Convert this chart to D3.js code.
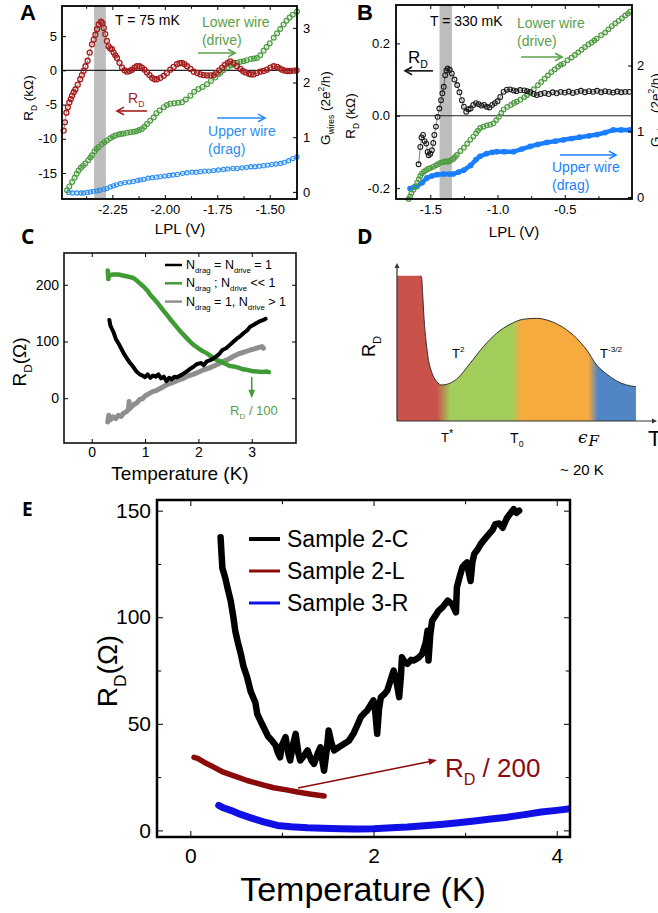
<!DOCTYPE html>
<html>
<head>
<meta charset="utf-8">
<script src="https://cdn.jsdelivr.net/npm/d3@7/dist/d3.min.js"></script>
<style>
body { margin: 0; background: #fff; }
text { font-family: "Liberation Sans", Arial, Helvetica, sans-serif; }
</style>
</head>
<body>
<svg id="fig" width="658" height="913"></svg>
<script>
// ---------- panel A (T = 75 mK) : [LPL (V), value] ----------
const aRD = [[-2.482,-8.8],[-2.476,-7.6],[-2.469,-6.2],[-2.462,-5.4],[-2.455,-4.7],[-2.448,-4.2],[-2.442,-3.7],[-2.434,-3.2],[-2.426,-2.8],[-2.415,-2.1],[-2.403,-1.3],[-2.395,-0.7],[-2.387,-0.1],[-2.378,0.6],[-2.368,1.4],[-2.358,2.6],[-2.347,3.8],[-2.339,4.5],[-2.331,5.2],[-2.323,6.0],[-2.315,6.7],[-2.304,7.1],[-2.297,6.9],[-2.291,6.2],[-2.284,5.3],[-2.276,4.3],[-2.268,3.5],[-2.260,3.2],[-2.252,3.1],[-2.244,2.6],[-2.236,2.2],[-2.228,1.8],[-2.216,1.1],[-2.204,0.4],[-2.192,0.0],[-2.180,-0.2],[-2.168,-0.1],[-2.156,0.1],[-2.144,0.4],[-2.133,0.6],[-2.121,0.6],[-2.109,0.4],[-2.097,0.1],[-2.085,-0.3],[-2.073,-0.7],[-2.061,-1.1],[-2.049,-1.3],[-2.037,-1.3],[-2.021,-1.1],[-2.005,-0.8],[-1.990,-0.4],[-1.974,0.1],[-1.958,0.5],[-1.942,0.9],[-1.930,1.05],[-1.918,1.1],[-1.906,0.9],[-1.894,0.6],[-1.878,0.2],[-1.862,-0.2],[-1.846,-0.4],[-1.830,-0.6],[-1.815,-0.7],[-1.799,-0.75],[-1.783,-0.75],[-1.767,-0.7],[-1.755,-0.4],[-1.741,0.0],[-1.727,0.4],[-1.714,0.8],[-1.700,1.1],[-1.688,1.3],[-1.672,1.1],[-1.656,0.6],[-1.640,0.2],[-1.628,-0.1],[-1.616,-0.3],[-1.600,-0.5],[-1.590,-0.6],[-1.577,-0.6],[-1.561,-0.4],[-1.545,-0.2],[-1.529,-0.1],[-1.513,0.1],[-1.497,0.4],[-1.481,0.6],[-1.465,0.5],[-1.453,0.3],[-1.441,0.1],[-1.428,-0.05],[-1.415,-0.1],[-1.402,-0.1],[-1.386,-0.05],[-1.372,0.0]];
const aLower = [[-2.466,0.03],[-2.455,0.10],[-2.442,0.18],[-2.43,0.26],[-2.42,0.33],[-2.411,0.39],[-2.40,0.44],[-2.39,0.48],[-2.379,0.52],[-2.365,0.58],[-2.355,0.63],[-2.347,0.67],[-2.335,0.74],[-2.325,0.79],[-2.315,0.82],[-2.30,0.87],[-2.288,0.91],[-2.276,0.94],[-2.26,0.98],[-2.248,1.01],[-2.236,1.03],[-2.22,1.05],[-2.208,1.06],[-2.196,1.07],[-2.18,1.08],[-2.164,1.09],[-2.148,1.10],[-2.135,1.11],[-2.122,1.13],[-2.109,1.15],[-2.097,1.19],[-2.085,1.24],[-2.07,1.30],[-2.053,1.36],[-2.04,1.44],[-2.025,1.49],[-2.005,1.55],[-1.99,1.59],[-1.974,1.61],[-1.955,1.62],[-1.936,1.63],[-1.918,1.64],[-1.90,1.69],[-1.878,1.76],[-1.86,1.83],[-1.84,1.88],[-1.82,1.92],[-1.799,1.97],[-1.78,2.03],[-1.76,2.09],[-1.745,2.15],[-1.735,2.18],[-1.72,2.23],[-1.70,2.28],[-1.685,2.31],[-1.672,2.33],[-1.655,2.36],[-1.64,2.38],[-1.624,2.39],[-1.61,2.41],[-1.59,2.43],[-1.575,2.44],[-1.561,2.45],[-1.545,2.50],[-1.529,2.58],[-1.515,2.65],[-1.50,2.72],[-1.481,2.82],[-1.465,2.90],[-1.45,2.98],[-1.434,3.06],[-1.42,3.13],[-1.405,3.19],[-1.39,3.24],[-1.37,3.30]];
const aUpper = [[-2.458,-0.01],[-2.44,-0.02],[-2.42,-0.02],[-2.40,-0.02],[-2.387,-0.02],[-2.37,-0.01],[-2.355,0.0],[-2.34,0.01],[-2.323,0.02],[-2.31,0.03],[-2.29,0.05],[-2.276,0.06],[-2.26,0.09],[-2.245,0.11],[-2.23,0.13],[-2.212,0.15],[-2.19,0.17],[-2.17,0.18],[-2.15,0.19],[-2.13,0.21],[-2.117,0.22],[-2.10,0.23],[-2.08,0.25],[-2.06,0.26],[-2.04,0.27],[-2.021,0.28],[-2.0,0.29],[-1.98,0.30],[-1.96,0.31],[-1.94,0.32],[-1.915,0.34],[-1.894,0.35],[-1.87,0.36],[-1.85,0.36],[-1.83,0.37],[-1.81,0.38],[-1.79,0.38],[-1.767,0.39],[-1.745,0.40],[-1.72,0.41],[-1.70,0.42],[-1.675,0.43],[-1.655,0.43],[-1.632,0.44],[-1.61,0.45],[-1.59,0.46],[-1.57,0.46],[-1.55,0.47],[-1.529,0.48],[-1.51,0.49],[-1.49,0.50],[-1.47,0.51],[-1.449,0.52],[-1.43,0.54],[-1.41,0.57],[-1.39,0.61],[-1.37,0.64]];
const aBand = [-2.337, -2.281];
const aXTicks = [-2.25, -2.0, -1.75, -1.5];
const aXMinor = [-2.375, -2.125, -1.875, -1.625];
const aYTicks = [-15, -10, -5, 0, 5];
const aGTicks = [0, 1, 2, 3];

// ---------- panel B (T = 330 mK) ----------
const bRD = [[-1.587,-0.134],[-1.574,-0.086],[-1.565,-0.06],[-1.554,-0.053],[-1.542,-0.07],[-1.53,-0.077],[-1.52,-0.1],[-1.512,-0.109],[-1.50,-0.105],[-1.488,-0.095],[-1.478,-0.075],[-1.47,-0.053],[-1.458,-0.03],[-1.446,-0.003],[-1.433,0.02],[-1.42,0.043],[-1.41,0.062],[-1.40,0.08],[-1.389,0.112],[-1.38,0.125],[-1.371,0.131],[-1.355,0.127],[-1.34,0.117],[-1.32,0.1],[-1.30,0.085],[-1.283,0.065],[-1.265,0.043],[-1.25,0.025],[-1.233,0.011],[-1.215,0.018],[-1.20,0.02],[-1.18,0.03],[-1.16,0.035],[-1.14,0.032],[-1.12,0.028],[-1.10,0.03],[-1.08,0.025],[-1.06,0.023],[-1.04,0.03],[-1.02,0.035],[-1.0,0.04],[-0.98,0.052],[-0.955,0.066],[-0.93,0.072],[-0.906,0.073],[-0.88,0.07],[-0.86,0.068],[-0.832,0.071],[-0.80,0.07],[-0.78,0.068],[-0.757,0.066],[-0.73,0.06],[-0.708,0.057],[-0.68,0.06],[-0.65,0.063],[-0.62,0.06],[-0.59,0.065],[-0.56,0.062],[-0.53,0.066],[-0.50,0.064],[-0.47,0.067],[-0.44,0.063],[-0.41,0.066],[-0.38,0.069],[-0.35,0.065],[-0.32,0.068],[-0.29,0.066],[-0.26,0.069],[-0.23,0.065],[-0.20,0.068],[-0.17,0.066],[-0.14,0.064],[-0.11,0.067],[-0.08,0.065],[-0.05,0.066],[-0.02,0.066]];
const bLower = [[-1.661,-0.03],[-1.65,0.01],[-1.64,0.06],[-1.625,0.11],[-1.611,0.16],[-1.598,0.22],[-1.585,0.27],[-1.574,0.32],[-1.562,0.36],[-1.546,0.39],[-1.53,0.41],[-1.515,0.43],[-1.50,0.44],[-1.48,0.46],[-1.46,0.48],[-1.443,0.50],[-1.426,0.52],[-1.408,0.53],[-1.39,0.54],[-1.377,0.54],[-1.364,0.54],[-1.347,0.56],[-1.33,0.58],[-1.316,0.61],[-1.302,0.64],[-1.276,0.70],[-1.25,0.75],[-1.226,0.81],[-1.203,0.87],[-1.18,0.92],[-1.16,0.97],[-1.145,1.01],[-1.129,1.05],[-1.105,1.07],[-1.08,1.09],[-1.055,1.10],[-1.03,1.12],[-1.01,1.17],[-0.99,1.22],[-0.972,1.28],[-0.955,1.33],[-0.928,1.37],[-0.90,1.40],[-0.878,1.43],[-0.857,1.45],[-0.83,1.48],[-0.80,1.52],[-0.78,1.55],[-0.757,1.58],[-0.73,1.64],[-0.70,1.70],[-0.675,1.75],[-0.65,1.80],[-0.625,1.85],[-0.60,1.90],[-0.575,1.94],[-0.55,1.98],[-0.53,2.01],[-0.51,2.03],[-0.48,2.08],[-0.45,2.12],[-0.425,2.16],[-0.40,2.20],[-0.375,2.24],[-0.35,2.28],[-0.325,2.32],[-0.30,2.35],[-0.28,2.38],[-0.262,2.41],[-0.23,2.46],[-0.20,2.50],[-0.175,2.55],[-0.15,2.60],[-0.125,2.64],[-0.10,2.68],[-0.075,2.72],[-0.05,2.76],[-0.03,2.79],[-0.015,2.82]];
const bUpper = [[-1.65,0.13],[-1.62,0.15],[-1.60,0.16],[-1.56,0.22],[-1.525,0.29],[-1.49,0.32],[-1.45,0.34],[-1.40,0.35],[-1.36,0.35],[-1.33,0.35],[-1.29,0.38],[-1.25,0.41],[-1.20,0.48],[-1.16,0.57],[-1.13,0.62],[-1.08,0.66],[-1.04,0.68],[-1.005,0.69],[-0.95,0.69],[-0.88,0.69],[-0.82,0.73],[-0.757,0.77],[-0.70,0.80],[-0.634,0.83],[-0.57,0.85],[-0.51,0.87],[-0.45,0.89],[-0.39,0.91],[-0.32,0.93],[-0.26,0.95],[-0.20,0.98],[-0.14,1.02],[-0.08,1.02],[-0.015,1.02]];
const bBand = [-1.431, -1.339];
const bXTicks = [-1.5, -1.0, -0.5];
const bXMinor = [-1.25, -0.75, -0.25];
const bYTicks = [-0.2, 0.0, 0.2];
const bGTicks = [0, 1, 2];

// ---------- panel C : [T (K), R_D (Ohm)] ----------
const cEqual = [[0.33,138],[0.35,128],[0.38,122],[0.41,116],[0.45,105],[0.5,97],[0.55,88],[0.6,79],[0.66,70],[0.72,62],[0.78,55],[0.84,47],[0.9,42],[0.95,40],[1.0,37],[1.05,42],[1.1,36],[1.15,40],[1.2,38],[1.25,42],[1.3,35],[1.35,38],[1.4,30],[1.45,36],[1.5,33],[1.55,38],[1.6,37],[1.7,42],[1.78,47],[1.85,52],[1.9,55],[1.97,60],[2.05,62],[2.1,58],[2.16,65],[2.25,68],[2.34,74],[2.4,79],[2.45,85],[2.52,88],[2.59,94],[2.66,100],[2.72,105],[2.78,109],[2.85,115],[2.92,120],[2.97,126],[3.03,129],[3.1,133],[3.16,136],[3.22,138],[3.26,140]];
const cLow = [[0.3,225],[0.31,210],[0.33,217],[0.4,218],[0.5,218],[0.6,216],[0.7,214],[0.78,212],[0.85,207],[0.92,201],[0.97,197],[1.05,189],[1.1,182],[1.16,176],[1.25,166],[1.33,156],[1.41,147],[1.5,136],[1.58,127],[1.66,118],[1.75,109],[1.83,101],[1.91,94],[2.0,88],[2.08,83],[2.16,79],[2.25,73],[2.33,68],[2.41,65],[2.5,61],[2.58,57],[2.66,56],[2.75,54],[2.83,51],[2.91,50],[3.0,48],[3.1,47],[3.2,46],[3.28,47],[3.32,46]];
const cMulti = [[0.3,-42],[0.32,-30],[0.35,-38],[0.4,-33],[0.45,-36],[0.5,-30],[0.55,-32],[0.6,-26],[0.65,-24],[0.69,-20],[0.7,-6],[0.715,-18],[0.78,-12],[0.85,-8],[0.9,-2],[0.95,-1],[1.0,4],[1.09,9],[1.15,12],[1.2,13],[1.3,18],[1.41,24],[1.5,27],[1.6,31],[1.72,35],[1.8,39],[1.9,42],[2.03,47],[2.1,50],[2.2,53],[2.34,59],[2.45,64],[2.55,68],[2.66,74],[2.75,78],[2.85,81],[2.97,85],[3.05,87],[3.12,89],[3.19,91],[3.22,88]];
const cXTicks = [0, 1, 2, 3];
const cYTicks = [0, 100, 200];

// ---------- panel D : schematic curve (arbitrary units) ----------
const dCurve = [[0,9.2],[0.91,9.2],[0.95,9.03],[0.99,7.97],[1.04,6.5],[1.12,5.02],[1.2,3.97],[1.33,3.12],[1.53,2.49],[1.72,2.28],[1.91,2.32],[2.3,2.66],[2.81,3.65],[3.32,4.70],[3.83,5.55],[4.35,6.12],[4.86,6.44],[5.37,6.5],[5.88,6.33],[6.4,5.91],[6.91,5.23],[7.3,4.49],[7.68,3.54],[8.07,2.96],[8.45,2.53],[8.83,2.28],[9.19,2.17]];
const dRegions = [
  { from: 0, to: 1.53, color: "#c9524a" },
  { from: 2.04, to: 4.41, color: "#a3cd5b" },
  { from: 4.8, to: 7.35, color: "#f7aa3e" },
  { from: 7.73, to: 10, color: "#5085c6" }
];

// ---------- panel E : [T (K), R_D (Ohm)] ----------
const e2C = [[0.33,137.5],[0.34,130],[0.35,123],[0.38,118.7],[0.41,113],[0.44,107.8],[0.47,100],[0.49,93.7],[0.52,88],[0.55,83],[0.58,77],[0.62,71.8],[0.66,65],[0.69,62],[0.71,60],[0.73,54.7],[0.77,51],[0.8,48.4],[0.85,44],[0.89,42.2],[0.93,40],[0.96,36],[0.98,34.3],[1.0,40],[1.04,43.7],[1.07,36],[1.09,32.8],[1.12,40],[1.15,45.3],[1.18,36],[1.2,32.8],[1.24,35],[1.28,37.5],[1.32,33],[1.35,31.2],[1.39,36],[1.42,39],[1.44,33],[1.46,28],[1.49,38],[1.51,46.9],[1.54,41],[1.57,37.5],[1.62,39],[1.68,40.6],[1.73,42],[1.78,45.3],[1.82,49],[1.86,53.1],[1.9,55],[1.93,56.2],[1.97,59],[2.0,61],[2.02,55],[2.04,45.3],[2.06,57],[2.08,62.5],[2.12,64],[2.15,65.6],[2.19,71],[2.22,75],[2.25,70],[2.28,62.5],[2.3,73],[2.31,81.2],[2.34,79],[2.37,78.1],[2.41,80],[2.44,79.7],[2.49,81],[2.53,82.8],[2.57,88],[2.59,93.7],[2.6,79.7],[2.62,92],[2.64,98.4],[2.68,101],[2.71,103],[2.76,105],[2.81,107.8],[2.86,106],[2.9,102.3],[2.91,114],[2.94,119],[2.97,123.4],[3.0,125],[3.02,125.7],[3.04,121],[3.06,117],[3.08,126],[3.1,129.7],[3.14,132],[3.17,134.3],[3.22,137],[3.26,139],[3.3,141],[3.33,143.7],[3.37,144],[3.41,142],[3.44,145],[3.46,146.8],[3.5,149],[3.53,150.7],[3.56,149],[3.59,150]];
const e2L = [[0.04,34.3],[0.08,33.8],[0.15,32],[0.25,29.8],[0.36,27.3],[0.5,25.2],[0.62,23.4],[0.77,21.6],[0.91,20],[1.05,19],[1.17,18],[1.3,17.1],[1.4,16.5],[1.46,16.1]];
const e3R = [[0.31,11.7],[0.36,10.6],[0.44,9.4],[0.55,7.5],[0.66,5.9],[0.8,4],[0.95,2.3],[1.1,1.7],[1.28,1.2],[1.45,1.0],[1.64,0.8],[1.82,0.7],[2.0,0.8],[2.2,1.2],[2.37,1.6],[2.55,2.2],[2.73,2.8],[2.9,3.5],[3.1,4.4],[3.28,5.3],[3.46,6.2],[3.65,7.4],[3.83,8.6],[4.0,9.4],[4.15,10.2]];
const eSeries = ["Sample 2-C", "Sample 2-L", "Sample 3-R"];
const eColors = ["#000000", "#8b0a0a", "#1010e6"];
const eXTicks = [0, 2, 4], eXMinor = [1, 3];
const eYTicks = [0, 50, 100, 150], eYMinor = [25, 75, 125];

const svg = d3.select("#fig");
const hy = f => v => d3.format(f)(v).replace("\u2212", "-");

// text with sub/superscripts: parts = ["R", ["D","sub"], " (k\u03a9)"]
function rich(g, x, y, parts, fs) {
  const t = g.append("text").attr("x", x).attr("y", y).attr("font-size", fs);
  let off = 0;
  parts.forEach(p => {
    const [s, kind, k] = Array.isArray(p) ? p : [p, ""];
    const target = kind === "sub" ? fs * 0.32 : kind === "sup" ? -fs * 0.42 : 0;
    const ts = t.append("tspan").attr("dy", (target - off).toFixed(2)).text(s);
    if (kind) ts.attr("font-size", (fs * (k || 0.62)).toFixed(1));
    off = target;
  });
  return t;
}

function arrow(g, x1, y1, x2, y2, color, w, filled) {
  const a = Math.atan2(y2 - y1, x2 - x1), L = filled ? 9 : 8, s = filled ? 0.38 : 0.5;
  const p1 = [x2 - L * Math.cos(a - s), y2 - L * Math.sin(a - s)];
  const p2 = [x2 - L * Math.cos(a + s), y2 - L * Math.sin(a + s)];
  const ex = filled ? x2 - L * 0.8 * Math.cos(a) : x2, ey = filled ? y2 - L * 0.8 * Math.sin(a) : y2;
  g.append("line").attr("x1", x1).attr("y1", y1).attr("x2", ex).attr("y2", ey)
    .attr("stroke", color).attr("stroke-width", w);
  if (filled) {
    g.append("path").attr("d", `M${x2},${y2}L${p1}L${p2}Z`).attr("fill", color);
  } else {
    g.append("path").attr("d", `M${p1}L${x2},${y2}L${p2}`).attr("fill", "none")
      .attr("stroke", color).attr("stroke-width", w);
  }
}

// boxed axes with inward ticks on all four sides
function frame(g, x, y, o) {
  const [x0, x1] = x.range(), [y0, y1] = y.range();
  const len = o.len, tidy = s => s.select(".domain").remove();
  const font = s => s.attr("font-size", o.fs).attr("font-family", null);
  g.append("g").attr("transform", `translate(0,${y0})`)
    .call(d3.axisBottom(x).tickValues(o.xt).tickFormat(o.xf).tickSizeInner(-len).tickSizeOuter(0).tickPadding(o.xpad))
    .call(tidy).call(font);
  g.append("g").attr("transform", `translate(0,${y1})`)
    .call(d3.axisTop(x).tickValues(o.xt).tickFormat("").tickSizeInner(-len).tickSizeOuter(0)).call(tidy);
  if (o.xm) {
    g.append("g").attr("transform", `translate(0,${y0})`)
      .call(d3.axisBottom(x).tickValues(o.xm).tickFormat("").tickSizeInner(-len * 0.7).tickSizeOuter(0)).call(tidy);
    g.append("g").attr("transform", `translate(0,${y1})`)
      .call(d3.axisTop(x).tickValues(o.xm).tickFormat("").tickSizeInner(-len * 0.7).tickSizeOuter(0)).call(tidy);
  }
  g.append("g").attr("transform", `translate(${x0},0)`)
    .call(d3.axisLeft(y).tickValues(o.yt).tickFormat(o.yf).tickSizeInner(-len).tickSizeOuter(0).tickPadding(o.ypad))
    .call(tidy).call(font);
  const yr = o.yr || y;
  g.append("g").attr("transform", `translate(${x1},0)`)
    .call(d3.axisRight(yr).tickValues(o.yrt || o.yt).tickFormat(o.yrf || "").tickSizeInner(-len).tickSizeOuter(0).tickPadding(o.yrpad || 4))
    .call(tidy).call(font);
  if (o.ym) {
    g.append("g").attr("transform", `translate(${x0},0)`)
      .call(d3.axisLeft(y).tickValues(o.ym).tickFormat("").tickSizeInner(-len * 0.7).tickSizeOuter(0)).call(tidy);
    g.append("g").attr("transform", `translate(${x1},0)`)
      .call(d3.axisRight(y).tickValues(o.ym).tickFormat("").tickSizeInner(-len * 0.7).tickSizeOuter(0)).call(tidy);
  }
  g.append("rect").attr("x", x0).attr("y", y1).attr("width", x1 - x0).attr("height", y0 - y1)
    .attr("fill", "none").attr("stroke", "#000").attr("stroke-width", o.sw);
}

function circles(g, data, x, y, color, r, sw) {
  g.append("path").attr("d", d3.line().x(d => x(d[0])).y(d => y(d[1]))(data))
    .attr("fill", "none").attr("stroke", color).attr("stroke-width", 0.7).attr("opacity", 0.8);
  g.append("g").selectAll("circle").data(data).join("circle")
    .attr("cx", d => x(d[0])).attr("cy", d => y(d[1])).attr("r", r)
    .attr("fill", "none").attr("stroke", color).attr("stroke-width", sw);
}

function trace(g, data, x, y, color, w) {
  g.append("path").attr("d", d3.line().x(d => x(d[0])).y(d => y(d[1]))(data))
    .attr("fill", "none").attr("stroke", color).attr("stroke-width", w)
    .attr("stroke-linejoin", "round").attr("stroke-linecap", "round");
}

function letter(x, y, s, fs, fam) {
  svg.append("text").attr("x", x).attr("y", y).attr("font-size", fs).attr("font-weight", "bold")
    .style("font-family", fam).text(s);
}

// ================= A =================
{
  const g = svg.append("g");
  const x = d3.scaleLinear().domain([-2.49, -1.37]).range([62, 297]);
  const yL = d3.scaleLinear().domain([-18.8, 9.4]).range([199, 6]);
  const yR = d3.scaleLinear().domain([-0.13, 3.4]).range([199, 6]);
  g.append("rect").attr("x", x(aBand[0])).attr("y", 6).attr("width", x(aBand[1]) - x(aBand[0]))
    .attr("height", 193).attr("fill", "#bdbdbd");
  g.append("line").attr("x1", 62).attr("x2", 297).attr("y1", yL(0)).attr("y2", yL(0))
    .attr("stroke", "#222").attr("stroke-width", 1.4);
  circles(g, aUpper, x, yR, "#2b8df0", 2.1, 1.1);
  circles(g, aLower, x, yR, "#4c9b40", 2.4, 1.2);
  circles(g, aRD, x, yL, "#a51d1d", 2.5, 1.3);
  frame(g, x, yL, { xt: aXTicks, xm: aXMinor, xf: hy(".2f"), yt: aYTicks, yf: hy("d"),
    yr: yR, yrt: aGTicks, yrf: d3.format("d"), yrpad: 6, len: 4, fs: 13, xpad: 6, ypad: 5, sw: 1.8 });
  g.append("text").attr("x", x(-2.237)).attr("y", yL(6.62)).attr("font-size", 14).text("T = 75 mK");
  g.append("text").attr("x", x(-1.823)).attr("y", yR(3.016)).attr("font-size", 14).attr("fill", "#5aa04a").text("Lower wire");
  g.append("text").attr("x", x(-1.823)).attr("y", yR(2.687)).attr("font-size", 14).attr("fill", "#5aa04a").text("(drive)");
  arrow(g, x(-1.842), yR(2.54), x(-1.665), yR(2.54), "#5aa04a", 1.6, false);
  rich(g, x(-2.175), yL(-4.77), ["R", ["D", "sub"]], 14).attr("fill", "#a51d1d");
  arrow(g, x(-2.085), yL(-5.94), x(-2.228), yL(-5.94), "#a51d1d", 1.6, false);
  g.append("text").attr("x", x(-1.794)).attr("y", yR(1.022)).attr("font-size", 14).attr("fill", "#2b8df0").text("Upper wire");
  g.append("text").attr("x", x(-1.794)).attr("y", yR(0.693)).attr("font-size", 14).attr("fill", "#2b8df0").text("(drag)");
  arrow(g, x(-1.751), yR(1.352), x(-1.522), yR(1.352), "#2b8df0", 1.6, false);
  g.append("text").attr("x", 180).attr("y", 234).attr("font-size", 15).attr("text-anchor", "middle").text("LPL (V)");
  rich(g, 0, 0, ["R", ["D", "sub"], " (k\u03a9)"], 13.5).attr("text-anchor", "middle")
    .attr("transform", "translate(33,98) rotate(-90)");
  rich(g, 0, 0, ["G", ["wires", "sub"], " (2e", ["2", "sup"], "/h)"], 13.5).attr("text-anchor", "middle")
    .attr("transform", "translate(330,108) rotate(-90)");
  letter(20, 20, "A", 22, "Liberation Sans, Arial, sans-serif");
}

// ================= B =================
{
  const g = svg.append("g");
  const x = d3.scaleLinear().domain([-1.755, 0]).range([396, 632]);
  const yL = d3.scaleLinear().domain([-0.23, 0.306]).range([199, 5]);
  const yR = d3.scaleLinear().domain([-0.03, 2.92]).range([199, 5]);
  g.append("rect").attr("x", x(bBand[0])).attr("y", 5).attr("width", x(bBand[1]) - x(bBand[0]))
    .attr("height", 194).attr("fill", "#bdbdbd");
  g.append("line").attr("x1", 396).attr("x2", 632).attr("y1", yL(0)).attr("y2", yL(0))
    .attr("stroke", "#222").attr("stroke-width", 1.2);
  trace(g, bUpper, x, yR, "#1a7fff", 4.5);
  circles(g, bUpper, x, yR, "#1a7fff", 2.3, 1.1);
  circles(g, bLower, x, yR, "#4e9a40", 2.3, 1.2);
  circles(g, bRD, x, yL, "#1a1a1a", 2.4, 1.1);
  frame(g, x, yL, { xt: bXTicks, xm: bXMinor, xf: hy(".1f"), yt: bYTicks, yf: hy(".1f"),
    yr: yR, yrt: bGTicks, yrf: d3.format("d"), yrpad: 5, len: 4, fs: 13, xpad: 6, ypad: 6, sw: 1.8 });
  g.append("text").attr("x", x(-1.502)).attr("y", yL(0.248)).attr("font-size", 14).text("T = 330 mK");
  g.append("text").attr("x", x(-0.855)).attr("y", yR(2.57)).attr("font-size", 14).attr("fill", "#5aa04a").text("Lower wire");
  g.append("text").attr("x", x(-0.855)).attr("y", yR(2.297)).attr("font-size", 14).attr("fill", "#5aa04a").text("(drive)");
  arrow(g, x(-0.825), yR(2.129), x(-0.52), yR(2.129), "#5aa04a", 1.6, false);
  rich(g, x(-1.666), yL(0.146), ["R", ["D", "sub"]], 17);
  arrow(g, x(-1.48), yL(0.124), x(-1.688), yL(0.124), "#111", 1.6, false);
  g.append("text").attr("x", x(-0.595)).attr("y", yR(0.381)).attr("font-size", 14).attr("fill", "#1a7fff").text("Upper wire");
  g.append("text").attr("x", x(-0.595)).attr("y", yR(0.107)).attr("font-size", 14).attr("fill", "#1a7fff").text("(drag)");
  arrow(g, x(-0.535), yR(0.639), x(-0.119), yR(0.639), "#1a7fff", 1.6, false);
  g.append("text").attr("x", 514).attr("y", 237).attr("font-size", 15).attr("text-anchor", "middle").text("LPL (V)");
  rich(g, 0, 0, ["R", ["D", "sub"], " (k\u03a9)"], 13.5).attr("text-anchor", "middle")
    .attr("transform", "translate(355,116) rotate(-90)");
  // the right-hand label runs past the page edge, as in the source figure
  rich(g, 0, 0, ["G", ["wires", "sub"], " (2e", ["2", "sup"], "/h)"], 13.5).attr("text-anchor", "middle")
    .attr("transform", "translate(660,110) rotate(-90)");
  letter(357, 20, "B", 22, "Liberation Sans, Arial, sans-serif");
}

// ================= C =================
{
  const g = svg.append("g");
  const x = d3.scaleLinear().domain([-0.52, 3.83]).range([64, 296]);
  const y = d3.scaleLinear().domain([-79, 256]).range([443, 253]);
  trace(g, cMulti, x, y, "#8e8e8e", 5);
  trace(g, cLow, x, y, "#3f9c35", 4.5);
  trace(g, cEqual, x, y, "#000", 4);
  frame(g, x, y, { xt: cXTicks, xf: d3.format("d"), yt: cYTicks, yf: d3.format("d"),
    len: 4, fs: 14, xpad: 4, ypad: 5, sw: 1.5 });
  const leg = [
    { c: "#000", t: ["N", ["drag", "sub"], " = N", ["drive", "sub"], " = 1"] },
    { c: "#3f9c35", t: ["N", ["drag", "sub"], " ; N", ["drive", "sub"], " << 1"] },
    { c: "#8e8e8e", t: ["N", ["drag", "sub"], " = 1, N", ["drive", "sub"], " > 1"] }
  ];
  leg.forEach((d, i) => {
    const yy = 265 + i * 18.3;
    g.append("line").attr("x1", 165).attr("x2", 182).attr("y1", yy).attr("y2", yy)
      .attr("stroke", d.c).attr("stroke-width", 2.5);
    rich(g, 186, yy + 4, d.t, 12.5);
  });
  arrow(g, x(3.0), y(37), x(3.0), y(0), "#3f9c35", 1.5, true);
  rich(g, x(2.593), y(-29.6), ["R", ["D", "sub"], " / 100"], 13).attr("fill", "#5aa04a");
  g.append("text").attr("x", 180).attr("y", 480).attr("font-size", 19).attr("text-anchor", "middle").text("Temperature (K)");
  rich(g, 0, 0, ["R", ["D", "sub"], "(\u03a9)"], 19).attr("text-anchor", "middle")
    .attr("transform", "translate(26,362) rotate(-90)");
  letter(21, 244, "C", 21, "Open Sans, Liberation Sans, sans-serif");
}

// ================= D =================
{
  const g = svg.append("g");
  const x = d3.scaleLinear().domain([0, 10]).range([397, 657]);
  const y = d3.scaleLinear().domain([0, 10]).range([421, 263]);
  const grad = svg.append("defs").append("linearGradient").attr("id", "dgrad")
    .attr("gradientUnits", "userSpaceOnUse").attr("x1", x(0)).attr("x2", x(10)).attr("y1", 0).attr("y2", 0);
  dRegions.forEach(r => {
    grad.append("stop").attr("offset", r.from / 10).attr("stop-color", r.color);
    grad.append("stop").attr("offset", r.to / 10).attr("stop-color", r.color);
  });
  g.append("path").attr("d", d3.area().x(d => x(d[0])).y0(y(0)).y1(d => y(d[1])).curve(d3.curveMonotoneX)(dCurve))
    .attr("fill", "url(#dgrad)");
  g.append("path").attr("d", d3.line().x(d => x(d[0])).y(d => y(d[1])).curve(d3.curveMonotoneX)(dCurve.slice(1)))
    .attr("fill", "none").attr("stroke", "#333").attr("stroke-width", 1);
  // axes with arrow heads
  g.append("line").attr("x1", x(0)).attr("y1", y(0)).attr("x2", x(0)).attr("y2", y(10) + 2).attr("stroke", "#333").attr("stroke-width", 1.2);
  g.append("path").attr("d", `M${x(0) - 2.5},${y(10) + 5}L${x(0)},${y(10)}L${x(0) + 2.5},${y(10) + 5}Z`).attr("fill", "#333");
  g.append("line").attr("x1", x(0)).attr("y1", y(0)).attr("x2", x(10) - 2).attr("y2", y(0)).attr("stroke", "#333").attr("stroke-width", 1.2);
  g.append("path").attr("d", `M${x(10) - 5},${y(0) - 2.5}L${x(10)},${y(0)}L${x(10) - 5},${y(0) + 2.5}Z`).attr("fill", "#333");
  rich(g, x(2.12), y(3.99), ["T", ["2", "sup"]], 13);
  rich(g, x(7.81), y(3.99), ["T", ["-3/2", "sup"]], 13);
  rich(g, x(1.69), y(-1.33), ["T", ["*", "sup", 0.85]], 13);
  rich(g, x(4.35), y(-1.39), ["T", ["0", "sub"]], 14);
  const ef = g.append("text").attr("x", x(6.96)).attr("y", y(-1.39)).attr("font-size", 17)
    .style("font-family", "DejaVu Serif, Liberation Serif, serif").style("font-style", "italic");
  ef.append("tspan").text("\u03f5");
  ef.append("tspan").attr("dy", 3).attr("dx", 1).attr("font-size", 15).text("F");
  g.append("text").attr("x", x(9.65)).attr("y", y(-1.58)).attr("font-size", 22).text("T");
  g.append("text").attr("x", x(6.27)).attr("y", y(-3.42)).attr("font-size", 15).text("~ 20 K");
  rich(g, 0, 0, ["R", ["D", "sub"]], 18).attr("transform", "translate(375,357) rotate(-90)");
  letter(357, 244, "D", 21, "Open Sans, Liberation Sans, sans-serif");
}

// ================= E =================
{
  const g = svg.append("g");
  const x = d3.scaleLinear().domain([-0.364, 4.145]).range([157, 570]);
  const y = d3.scaleLinear().domain([-3.1, 155]).range([837, 500]);
  svg.append("defs").append("clipPath").attr("id", "eclip").append("rect")
    .attr("x", 157).attr("y", 500).attr("width", 413).attr("height", 337);
  const plot = g.append("g").attr("clip-path", "url(#eclip)");
  trace(plot, e3R, x, y, "#1010e6", 7);
  trace(plot, e2L, x, y, "#8b0a0a", 5.5);
  trace(plot, e2C, x, y, "#000", 6.5);
  frame(g, x, y, { xt: eXTicks, xm: eXMinor, xf: d3.format("d"), yt: eYTicks, ym: eYMinor, yf: d3.format("d"),
    len: 6, fs: 21, xpad: 11, ypad: 6, sw: 2.5 });
  eSeries.forEach((s, i) => {
    const yy = 539 + i * 32;
    g.append("line").attr("x1", 249).attr("x2", 280).attr("y1", yy).attr("y2", yy)
      .attr("stroke", eColors[i]).attr("stroke-width", i === 0 ? 4 : 3);
    g.append("text").attr("x", 287).attr("y", yy + 8).attr("font-size", 23).text(s);
  });
  arrow(g, x(1.175), y(19.9), x(2.693), y(33.0), "#8b0a0a", 1.5, true);
  rich(g, x(2.78), y(25.1), ["R", ["D", "sub"], " / 200"], 26).attr("fill", "#8b0a0a");
  g.append("text").attr("x", 363).attr("y", 901).attr("font-size", 34).attr("text-anchor", "middle").text("Temperature (K)");
  rich(g, 0, 0, ["R", ["D", "sub"], "(\u03a9)"], 28).attr("text-anchor", "middle")
    .attr("transform", "translate(117,671) rotate(-90)");
  letter(22, 516, "E", 19, "Open Sans, Liberation Sans, sans-serif");
}
</script>
</body>
</html>
